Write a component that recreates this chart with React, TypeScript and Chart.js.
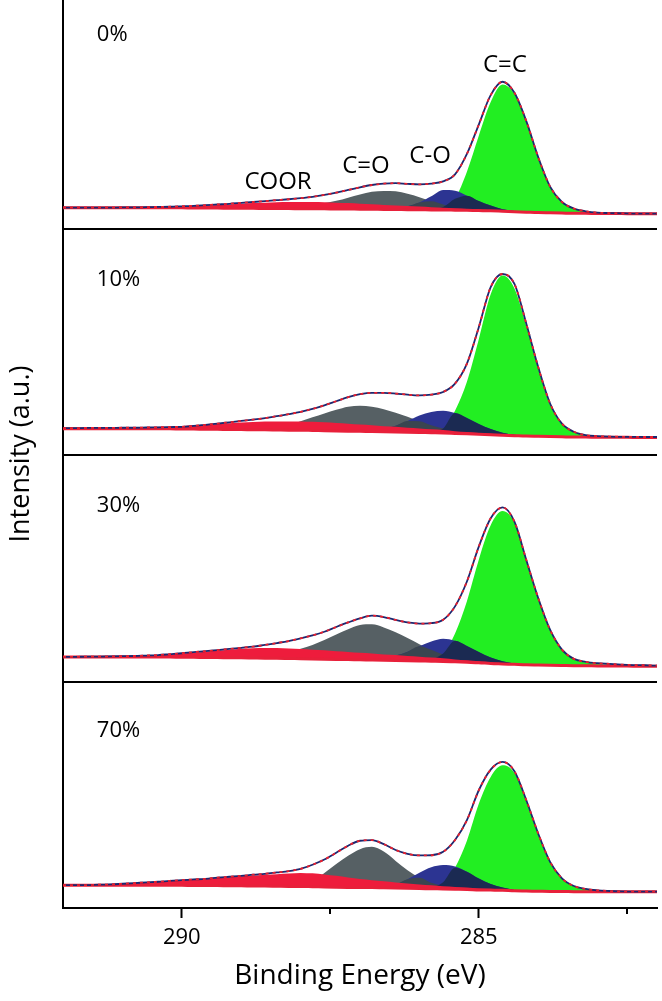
import React, { useEffect, useRef } from 'react';
import { Chart, registerables } from 'chart.js';

Chart.register(...registerables);

// ---------- data ----------
const energy = [
  292.0, 291.8, 291.6, 291.4, 291.2, 291.0, 290.8, 290.6, 290.4, 290.2,
  290.0, 289.8, 289.6, 289.4, 289.2, 289.0, 288.8, 288.6, 288.4, 288.2,
  288.0, 287.8, 287.6, 287.4, 287.2, 287.0, 286.8, 286.6, 286.4, 286.2,
  286.0, 285.8, 285.6, 285.4, 285.2, 285.0, 284.8, 284.6, 284.4, 284.2,
  284.0, 283.8, 283.6, 283.4, 283.2, 283.0, 282.8, 282.6, 282.4, 282.2,
  282.0,
];

const panelNames = ['0%', '10%', '30%', '70%'];
const peakNames = ['COOR', 'C=O', 'C-O', 'C=C'];
const xMajorTicks = [290, 285];
const xMinorTicks = [287.5, 282.5];

// 0 %
const baseline0 = [
  9.3, 9.3, 9.3, 9.3, 9.3, 9.3, 9.2, 9.2, 9.2, 9.2,
  9.2, 9.1, 9.1, 9.1, 9.0, 9.0, 9.0, 8.9, 8.9, 8.9,
  8.8, 8.8, 8.8, 8.7, 8.7, 8.6, 8.6, 8.5, 8.5, 8.4,
  8.4, 8.3, 8.3, 8.2, 8.1, 8.0, 7.9, 7.7, 7.5, 7.3,
  7.1, 7.0, 6.9, 6.8, 6.8, 6.7, 6.7, 6.7, 6.6, 6.6,
  6.6,
];
const envelope0 = [
  9.3, 9.3, 9.3, 9.3, 9.3, 9.4, 9.4, 9.5, 9.6, 9.7,
  9.9, 10.1, 10.4, 10.7, 11.0, 11.4, 11.8, 12.2, 12.6, 13.0,
  13.5, 14.1, 14.9, 15.9, 17.1, 18.3, 19.3, 19.9, 20.1, 19.8,
  19.6, 19.9, 20.9, 24.0, 33.0, 46.0, 59.0, 64.9, 60.0, 47.5,
  31.6, 18.6, 11.8, 8.9, 7.7, 7.1, 6.9, 6.8, 6.7, 6.7,
  6.7,
];
const coor0 = [
  0, 0, 0, 0, 0, 0, 0, 0.1, 0.2, 0.4,
  0.6, 0.8, 1.1, 1.4, 1.7, 2.0, 2.3, 2.6, 2.8, 2.9,
  3.0, 3.0, 2.9, 2.8, 2.6, 2.4, 2.2, 2.0, 1.8, 1.6,
  1.4, 1.2, 1.0, 0.8, 0.6, 0.45, 0.3, 0.2, 0.1, 0,
  0, 0, 0, 0, 0, 0, 0, 0, 0, 0,
  0,
];
const cdo0 = [
  0, 0, 0, 0, 0, 0, 0, 0, 0, 0,
  0, 0, 0, 0, 0, 0, 0, 0, 0.3, 0.6,
  1.0, 1.6, 2.5, 3.6, 5.0, 6.5, 7.7, 8.2, 8.0, 7.0,
  5.5, 3.8, 2.4, 1.3, 0.6, 0.2, 0, 0, 0, 0,
  0, 0, 0, 0, 0, 0, 0, 0, 0, 0,
  0,
];
const co0 = [
  0, 0, 0, 0, 0, 0, 0, 0, 0, 0,
  0, 0, 0, 0, 0, 0, 0, 0, 0, 0,
  0, 0, 0, 0, 0, 0, 0, 0.2, 0.6, 1.5,
  3.2, 6.0, 8.8, 8.6, 6.5, 4.2, 2.3, 0.9, 0.3, 0,
  0, 0, 0, 0, 0, 0, 0, 0, 0, 0,
  0,
];
const cc0 = [
  0, 0, 0, 0, 0, 0, 0, 0, 0, 0,
  0, 0, 0, 0, 0, 0, 0, 0, 0, 0,
  0, 0, 0, 0, 0, 0, 0, 0, 0, 0,
  0.2, 0.5, 1.3, 5.0, 17, 33, 48, 56, 52, 40,
  24, 11.5, 4.8, 2.0, 0.9, 0.4, 0.2, 0.1, 0, 0,
  0,
];

// 10 %
const baseline1 = [
  11.7, 11.7, 11.7, 11.7, 11.7, 11.7, 11.6, 11.6, 11.6, 11.6,
  11.5, 11.5, 11.4, 11.4, 11.3, 11.3, 11.2, 11.2, 11.1, 11.0,
  11.0, 10.9, 10.8, 10.7, 10.6, 10.5, 10.4, 10.3, 10.2, 10.1,
  10.0, 9.9, 9.8, 9.6, 9.4, 9.2, 9.0, 8.8, 8.6, 8.4,
  8.3, 8.2, 8.1, 8.0, 8.0, 7.9, 7.9, 7.9, 7.8, 7.8,
  7.8,
];
const envelope1 = [
  11.9, 11.9, 12.0, 12.0, 12.0, 12.1, 12.1, 12.2, 12.3, 12.4,
  12.5, 12.9, 13.4, 13.9, 14.5, 15.1, 15.7, 16.3, 17.2, 18.1,
  19.1, 20.4, 22.0, 23.8, 25.6, 26.9, 27.5, 27.5, 27.2, 26.7,
  26.4, 26.7, 27.9, 31.6, 40.4, 56.5, 74.2, 80.0, 75.6, 58.0,
  38.9, 22.8, 13.9, 10.3, 8.8, 8.4, 8.2, 8.1, 8.1, 8.0,
  8.0,
];
const coor1 = [
  0, 0, 0, 0.1, 0.2, 0.3, 0.5, 0.7, 0.9, 1.1,
  1.4, 1.7, 2.0, 2.4, 2.8, 3.1, 3.4, 3.6, 3.8, 3.9,
  3.9, 3.8, 3.7, 3.5, 3.3, 3.0, 2.8, 2.5, 2.3, 2.0,
  1.8, 1.5, 1.3, 1.0, 0.8, 0.6, 0.4, 0.25, 0.15, 0.05,
  0, 0, 0, 0, 0, 0, 0, 0, 0, 0,
  0,
];
const cdo1 = [
  0, 0, 0, 0, 0, 0, 0, 0, 0, 0,
  0, 0, 0, 0, 0, 0, 0.2, 0.6, 1.2, 2.4,
  4.0, 5.8, 7.6, 9.3, 10.8, 11.3, 11.0, 10.0, 8.5, 6.8,
  5.0, 3.3, 2.0, 1.0, 0.4, 0.1, 0, 0, 0, 0,
  0, 0, 0, 0, 0, 0, 0, 0, 0, 0,
  0,
];
const co1 = [
  0, 0, 0, 0, 0, 0, 0, 0, 0, 0,
  0, 0, 0, 0, 0, 0, 0, 0, 0, 0,
  0, 0, 0, 0, 0, 0.3, 0.7, 1.4, 2.8, 5.0,
  7.5, 9.2, 9.8, 9.0, 7.0, 4.6, 2.5, 1.1, 0.4, 0.1,
  0, 0, 0, 0, 0, 0, 0, 0, 0, 0,
  0,
];
const cc1 = [
  0, 0, 0, 0, 0, 0, 0, 0, 0, 0,
  0, 0, 0, 0, 0, 0, 0, 0, 0, 0,
  0, 0, 0, 0, 0, 0, 0, 0, 0, 0,
  0, 0.6, 2.0, 10.0, 23.0, 42.0, 62.0, 70.5, 65.0, 48.5,
  30.0, 14.0, 5.5, 2.2, 0.8, 0.4, 0.2, 0.1, 0, 0,
  0,
];

// 30 %
const baseline2 = [
  10.9, 10.9, 10.9, 10.9, 10.9, 10.9, 10.8, 10.8, 10.8, 10.8,
  10.7, 10.7, 10.6, 10.6, 10.5, 10.5, 10.4, 10.3, 10.3, 10.2,
  10.1, 10.0, 9.9, 9.8, 9.7, 9.6, 9.5, 9.4, 9.3, 9.2,
  9.1, 9.0, 8.9, 8.7, 8.5, 8.3, 8.0, 7.8, 7.6, 7.4,
  7.3, 7.2, 7.1, 7.0, 7.0, 6.9, 6.9, 6.9, 6.8, 6.8,
  6.8,
];
const envelope2 = [
  10.9, 10.9, 11.0, 11.0, 11.1, 11.2, 11.3, 11.5, 11.7, 12.1,
  12.5, 13.0, 13.4, 13.9, 14.4, 14.9, 15.4, 16.2, 17.0, 17.9,
  19.1, 20.4, 22.0, 24.1, 26.1, 27.9, 29.1, 28.5, 27.2, 26.1,
  25.6, 25.8, 27.3, 33.2, 44.2, 59.6, 72.1, 76.9, 70.6, 53.7,
  36.9, 22.9, 14.1, 10.0, 8.7, 8.1, 7.8, 7.5, 7.3, 7.2,
  7.0,
];
const coor2 = [
  0, 0, 0, 0, 0, 0.1, 0.3, 0.5, 0.8, 1.2,
  1.6, 2.1, 2.6, 3.1, 3.6, 4.0, 4.3, 4.5, 4.5, 4.4,
  4.3, 4.1, 3.9, 3.6, 3.4, 3.1, 2.9, 2.6, 2.4, 2.1,
  1.9, 1.6, 1.4, 1.1, 0.9, 0.7, 0.5, 0.3, 0.2, 0.1,
  0, 0, 0, 0, 0, 0, 0, 0, 0, 0,
  0,
];
const cdo2 = [
  0, 0, 0, 0, 0, 0, 0, 0, 0, 0,
  0, 0, 0, 0, 0, 0, 0.2, 0.7, 1.5, 2.8,
  4.4, 6.2, 8.5, 11.0, 13.4, 15.4, 15.8, 14.5, 12.5, 10.0,
  7.4, 5.0, 3.0, 1.6, 0.8, 0.3, 0.1, 0, 0, 0,
  0, 0, 0, 0, 0, 0, 0, 0, 0, 0,
  0,
];
const co2 = [
  0, 0, 0, 0, 0, 0, 0, 0, 0, 0,
  0, 0, 0, 0, 0, 0, 0, 0, 0, 0,
  0, 0, 0, 0, 0, 0.3, 0.7, 1.2, 2.2, 4.0,
  6.5, 8.7, 10.0, 9.3, 7.2, 4.8, 2.6, 1.2, 0.4, 0.1,
  0, 0, 0, 0, 0, 0, 0, 0, 0, 0,
  0,
];
const cc2 = [
  0, 0, 0, 0, 0, 0, 0, 0, 0, 0,
  0, 0, 0, 0, 0, 0, 0, 0, 0, 0,
  0, 0, 0, 0, 0, 0, 0, 0, 0, 0,
  0, 0.8, 3.5, 12.5, 27.0, 45.5, 61.0, 67.5, 62.5, 46.0,
  29.5, 15.5, 6.8, 2.8, 1.5, 0.9, 0.6, 0.4, 0.3, 0.2,
  0.1,
];

// 70 %
const baseline3 = [
  10.1, 10.1, 10.1, 10.1, 10.1, 10.1, 10.1, 10.0, 10.0, 10.0,
  10.0, 9.9, 9.9, 9.9, 9.8, 9.8, 9.7, 9.7, 9.6, 9.5,
  9.5, 9.4, 9.3, 9.2, 9.1, 9.0, 9.0, 8.9, 8.8, 8.7,
  8.6, 8.5, 8.4, 8.3, 8.2, 8.0, 7.9, 7.8, 7.6, 7.5,
  7.4, 7.3, 7.3, 7.2, 7.2, 7.2, 7.2, 7.2, 7.2, 7.2,
  7.2,
];
const envelope3 = [
  10.1, 10.1, 10.1, 10.3, 10.4, 10.7, 11.0, 11.3, 11.6, 12.0,
  12.3, 12.6, 12.9, 13.4, 13.8, 14.2, 14.7, 15.1, 15.7, 16.3,
  17.3, 19.1, 21.4, 24.4, 27.5, 29.7, 30.0, 28.2, 25.6, 23.9,
  23.2, 23.3, 24.8, 30.0, 38.8, 52.0, 61.1, 64.5, 60.4, 47.6,
  32.9, 20.4, 13.1, 9.7, 8.4, 7.8, 7.5, 7.3, 7.2, 7.2,
  7.2,
];
const coor3 = [
  0, 0, 0, 0.1, 0.3, 0.5, 0.8, 1.2, 1.6, 2.0,
  2.3, 2.7, 3.0, 3.4, 3.8, 4.2, 4.6, 5.0, 5.3, 5.7,
  6.0, 5.9, 5.5, 5.0, 4.4, 3.8, 3.3, 2.9, 2.5, 2.1,
  1.8, 1.5, 1.2, 1.0, 0.8, 0.6, 0.45, 0.3, 0.2, 0.1,
  0, 0, 0, 0, 0, 0, 0, 0, 0, 0,
  0,
];
const cdo3 = [
  0, 0, 0, 0, 0, 0, 0, 0, 0, 0,
  0, 0, 0, 0, 0, 0, 0, 0, 0, 0,
  0.8, 2.5, 6.2, 10.2, 14.0, 17.0, 18.0, 16.0, 12.0, 8.0,
  4.8, 2.6, 1.3, 0.6, 0.2, 0.1, 0, 0, 0, 0,
  0, 0, 0, 0, 0, 0, 0, 0, 0, 0,
  0,
];
const co3 = [
  0, 0, 0, 0, 0, 0, 0, 0, 0, 0,
  0, 0, 0, 0, 0, 0, 0, 0, 0, 0,
  0, 0, 0, 0, 0, 0, 0.3, 0.6, 1.6, 4.0,
  7.0, 9.5, 10.6, 10.0, 7.8, 5.0, 2.7, 1.2, 0.4, 0.1,
  0, 0, 0, 0, 0, 0, 0, 0, 0, 0,
  0,
];
const cc3 = [
  0, 0, 0, 0, 0, 0, 0, 0, 0, 0,
  0, 0, 0, 0, 0, 0, 0, 0, 0, 0,
  0, 0, 0, 0, 0, 0, 0, 0, 0, 0,
  0, 0.6, 3.0, 9.5, 21.5, 38.0, 50.0, 55.2, 52.0, 39.5,
  25.0, 12.8, 5.6, 2.4, 1.2, 0.6, 0.3, 0.1, 0, 0,
  0,
];

// ---------- layout (not data) ----------
const panelOffsets = [300, 200, 100, 0];
const panelLabelX = 291.43;
const panelLabelY = [85.5, 77.3, 77.5, 78.1];
const peakLabelX = [288.38, 286.9, 285.82, 284.56];
const peakLabelY = [20.5, 27.6, 32.0, 72.2];

const COLORS = {
  green: '#22ee22',
  gray: '#566064',
  blue: '#2c3492',
  navyOverlap: '#1b2a52',
  slateOverlap: '#3a4550',
  red: '#ee1c3c',
  baseline: '#e8203a',
  envNavy: '#1a2870',
  envRed: '#ec1f2c',
};

const FONT = "'Open Sans', sans-serif";

const panels = [
  { baseline: baseline0, envelope: envelope0, coor: coor0, cdo: cdo0, co: co0, cc: cc0 },
  { baseline: baseline1, envelope: envelope1, coor: coor1, cdo: cdo1, co: co1, cc: cc1 },
  { baseline: baseline2, envelope: envelope2, coor: coor2, cdo: cdo2, co: co2, cc: cc2 },
  { baseline: baseline3, envelope: envelope3, coor: coor3, cdo: cdo3, co: co3, cc: cc3 },
];

function buildDatasets() {
  const ds: any[] = [];
  panels.forEach((p, k) => {
    const off = panelOffsets[k];
    const abs = (vals: number[]) => energy.map((e, i) => ({ x: e, y: vals[i] + off }));
    const onBase = (net: number[]) =>
      energy.map((e, i) => ({ x: e, y: p.baseline[i] + net[i] + off }));
    const fillDs = (net: number[], color: string, order: number, baseIdx: number) => ({
      data: onBase(net),
      fill: baseIdx,
      backgroundColor: color,
      borderColor: 'rgba(0,0,0,0)',
      borderWidth: 0,
      order,
    });
    const baseIdx = ds.length;
    ds.push({
      data: abs(p.baseline),
      fill: false,
      borderColor: COLORS.baseline,
      borderWidth: 3,
      order: 2,
    });
    ds.push(fillDs(p.cc, COLORS.green, 8, baseIdx));
    ds.push(fillDs(p.cdo, COLORS.gray, 7, baseIdx));
    ds.push(fillDs(p.co, COLORS.blue, 6, baseIdx));
    ds.push(fillDs(p.cdo.map((v, i) => Math.min(v, p.co[i])), COLORS.slateOverlap, 5, baseIdx));
    ds.push(fillDs(p.co.map((v, i) => Math.min(v, p.cc[i])), COLORS.navyOverlap, 4, baseIdx));
    ds.push(fillDs(p.coor, COLORS.red, 3, baseIdx));
    ds.push({
      data: abs(p.envelope),
      fill: false,
      borderColor: COLORS.envNavy,
      borderWidth: 1.8,
      order: 1,
    });
    ds.push({
      data: abs(p.envelope),
      fill: false,
      borderColor: COLORS.envRed,
      borderWidth: 1.8,
      borderDash: [3, 4],
      order: 0,
    });
  });
  return ds;
}

const labelPlugin = {
  id: 'xpsLabels',
  afterDatasetsDraw(chart: any) {
    const { ctx, scales } = chart;
    const x = scales.x;
    const y = scales.y;
    ctx.save();
    ctx.fillStyle = '#000';
    ctx.textBaseline = 'middle';
    ctx.textAlign = 'left';
    ctx.font = `22px ${FONT}`;
    panelNames.forEach((t, k) => {
      ctx.fillText(t, x.getPixelForValue(panelLabelX), y.getPixelForValue(panelLabelY[k] + panelOffsets[k]));
    });
    ctx.textAlign = 'center';
    ctx.font = `24px ${FONT}`;
    peakNames.forEach((t, j) => {
      ctx.fillText(t, x.getPixelForValue(peakLabelX[j]), y.getPixelForValue(peakLabelY[j] + panelOffsets[0]));
    });
    ctx.restore();
  },
};

const minorTickPlugin = {
  id: 'minorTicks',
  afterDraw(chart: any) {
    const { ctx, chartArea } = chart;
    const x = chart.scales.x;
    ctx.save();
    ctx.strokeStyle = '#000';
    ctx.lineWidth = 2;
    xMinorTicks.forEach((v) => {
      const px = Math.round(x.getPixelForValue(v));
      ctx.beginPath();
      ctx.moveTo(px, chartArea.bottom);
      ctx.lineTo(px, chartArea.bottom + 6);
      ctx.stroke();
    });
    ctx.restore();
  },
};

export default function App() {
  const canvasRef = useRef<HTMLCanvasElement | null>(null);

  useEffect(() => {
    if (!canvasRef.current) return;
    Chart.defaults.font.family = FONT;
    const chart = new Chart(canvasRef.current, {
      type: 'line',
      data: { datasets: buildDatasets() },
      options: {
        animation: false,
        responsive: false,
        devicePixelRatio: 1,
        layout: { padding: { top: 0, right: 5, bottom: 0, left: 0 } },
        elements: {
          point: { radius: 0 },
          line: { cubicInterpolationMode: 'monotone' },
        },
        plugins: {
          legend: { display: false },
          tooltip: { enabled: false },
        },
        scales: {
          x: {
            type: 'linear',
            min: 282,
            max: 292,
            reverse: true,
            afterBuildTicks: (s: any) => {
              s.ticks = xMajorTicks.map((v) => ({ value: v }));
            },
            afterFit: (s: any) => {
              s.height = 93;
            },
            grid: {
              drawOnChartArea: false,
              drawTicks: true,
              tickLength: 10,
              tickWidth: 2,
              tickColor: '#000',
            },
            border: { color: '#000', width: 2 },
            ticks: {
              color: '#000',
              font: { size: 22, family: FONT },
              padding: 7,
              maxRotation: 0,
              callback: (v: any) => String(v),
            },
            title: {
              display: true,
              text: 'Binding Energy (eV)',
              color: '#000',
              font: { size: 28, family: FONT },
              padding: { top: 0, bottom: 8 },
            },
          },
          y: {
            type: 'linear',
            min: 0,
            max: 401,
            afterBuildTicks: (s: any) => {
              s.ticks = [0, 100, 200, 300].map((v) => ({ value: v }));
            },
            afterFit: (s: any) => {
              s.width = 63;
            },
            grid: {
              color: '#000',
              lineWidth: 2,
              drawTicks: false,
            },
            border: { color: '#000', width: 2 },
            ticks: { display: false },
            title: {
              display: true,
              text: 'Intensity (a.u.)',
              color: '#000',
              font: { size: 27, family: FONT },
              padding: { top: 5, bottom: 0 },
            },
          },
        },
      } as any,
      plugins: [labelPlugin, minorTickPlugin],
    });
    return () => chart.destroy();
  }, []);

  return (
    <div style={{ position: 'fixed', left: 0, top: 0, width: 662, height: 1001, background: '#fff' }}>
      <canvas ref={canvasRef} width={662} height={1001} style={{ display: 'block', width: 662, height: 1001 }} />
    </div>
  );
}
